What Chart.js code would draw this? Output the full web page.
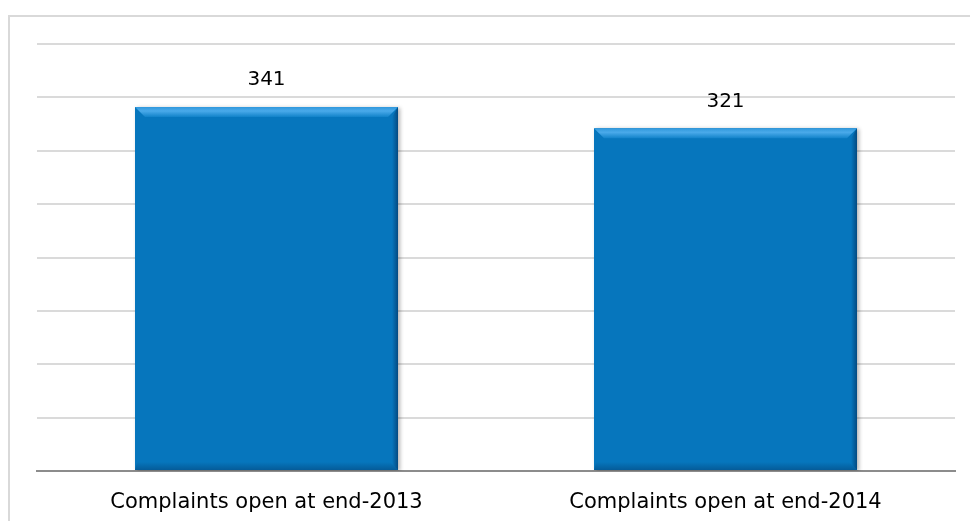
<!DOCTYPE html>
<html>
<head>
<meta charset="utf-8">
<script src="https://cdn.jsdelivr.net/npm/chart.js@4.4.1/dist/chart.umd.min.js"></script>
<style>
  html, body { margin: 0; padding: 0; background: #fff; }
  #wrap { position: relative; width: 970px; height: 521px; overflow: hidden; }
  #frame { position: absolute; left: 8px; top: 15px; width: 990px; height: 540px;
           border: 2px solid #d9d9d9; box-sizing: border-box; }
  canvas { position: absolute; left: 0; top: 0; }
</style>
</head>
<body>
<div id="wrap">
  <div id="frame"></div>
  <canvas id="chart" width="970" height="521"></canvas>
</div>
<script>
const categories = ['Complaints open at end-2013', 'Complaints open at end-2014'];
const complaintsOpen = [341, 321];
const yMax = 400;
const yStep = 50;

const FONT = '"DejaVu Sans", Verdana, sans-serif';

// bevelled look + value labels on top of each bar
const barDecor = {
  id: 'barDecor',
  beforeDatasetsDraw(chart) {
    const ctx = chart.ctx;
    ctx.save();
    ctx.shadowColor = 'rgba(0,0,0,0.3)';
    ctx.shadowBlur = 4;
    ctx.shadowOffsetX = 2;
    ctx.shadowOffsetY = 1;
  },
  afterDatasetsDraw(chart) {
    const ctx = chart.ctx;
    ctx.restore();
    const meta = chart.getDatasetMeta(0);
    meta.data.forEach((bar, i) => {
      const p = bar.getProps(['x', 'y', 'base', 'width'], true);
      const l = p.x - p.width / 2, r = p.x + p.width / 2, t = p.y, b = p.base;
      const bv = 10;
      ctx.save();
      // top bevel
      let g = ctx.createLinearGradient(0, t, 0, t + bv);
      g.addColorStop(0, '#2f98dc');
      g.addColorStop(0.4, '#4aaaea');
      g.addColorStop(1, '#1182c9');
      ctx.fillStyle = g;
      ctx.beginPath();
      ctx.moveTo(l, t); ctx.lineTo(r, t); ctx.lineTo(r - bv, t + bv); ctx.lineTo(l + bv, t + bv);
      ctx.closePath(); ctx.fill();
      // right bevel
      g = ctx.createLinearGradient(r, 0, r - 6, 0);
      g.addColorStop(0, 'rgba(0,30,70,0.5)');
      g.addColorStop(1, 'rgba(0,30,70,0)');
      ctx.fillStyle = g;
      ctx.beginPath();
      ctx.moveTo(r, t); ctx.lineTo(r, b); ctx.lineTo(r - 6, b - 6); ctx.lineTo(r - 6, t + bv);
      ctx.closePath(); ctx.fill();
      // bottom bevel
      g = ctx.createLinearGradient(0, b, 0, b - 8);
      g.addColorStop(0, 'rgba(0,30,70,0.3)');
      g.addColorStop(1, 'rgba(0,30,70,0)');
      ctx.fillStyle = g;
      ctx.beginPath();
      ctx.moveTo(l, b); ctx.lineTo(r, b); ctx.lineTo(r - 8, b - 8); ctx.lineTo(l + 2, b - 8);
      ctx.closePath(); ctx.fill();
      // value label
      ctx.fillStyle = '#000';
      ctx.font = '20px ' + FONT;
      ctx.textAlign = 'center';
      ctx.textBaseline = 'middle';
      ctx.fillText(String(complaintsOpen[i]), p.x, t - 27);
      ctx.restore();
    });
  }
};

new Chart(document.getElementById('chart'), {
  type: 'bar',
  data: {
    labels: categories,
    datasets: [{
      data: complaintsOpen,
      backgroundColor: '#0676bd',
      borderWidth: 0,
      barPercentage: 0.573,
      categoryPercentage: 1
    }]
  },
  options: {
    responsive: false,
    animation: false,
    layout: { padding: { left: 37, right: 15, top: 44, bottom: 0 } },
    plugins: { legend: { display: false }, tooltip: { enabled: false } },
    scales: {
      x: {
        grid: { display: false },
        border: { display: true, color: '#8c8c8c', width: 2 },
        ticks: { color: '#000', padding: 11, font: { family: FONT, size: 21 } },
        afterFit(scale) { scale.height = 50; }
      },
      y: {
        min: 0,
        max: yMax,
        ticks: { display: false, stepSize: yStep },
        grid: { color: '#dadada', lineWidth: 2, drawTicks: false },
        border: { display: false },
        afterFit(scale) { scale.width = 0; }
      }
    }
  },
  plugins: [barDecor]
});
</script>
</body>
</html>
